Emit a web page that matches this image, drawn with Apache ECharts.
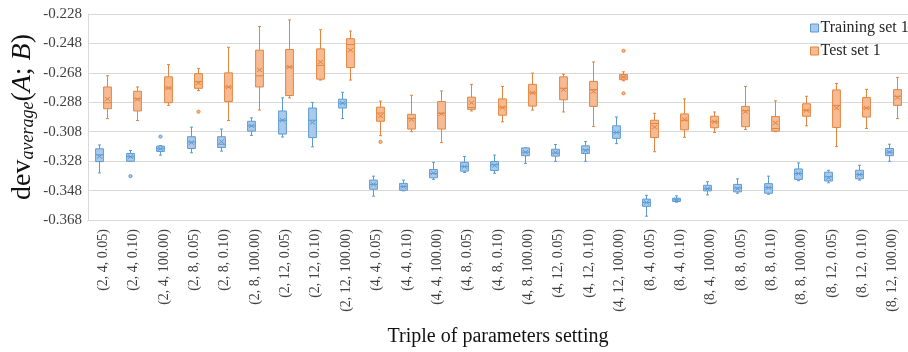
<!DOCTYPE html>
<html>
<head>
<meta charset="utf-8">
<script src="https://cdn.jsdelivr.net/npm/echarts@6/dist/echarts.min.js"></script>
<style>
  html, body { margin: 0; padding: 0; background: #fff; }
  #chart { width: 908px; height: 352px; }
</style>
</head>
<body>
<div id="chart"></div>
<script>
const categories = [
  '(2, 4, 0.05)', '(2, 4, 0.10)', '(2, 4, 100.00)',
  '(2, 8, 0.05)', '(2, 8, 0.10)', '(2, 8, 100.00)',
  '(2, 12, 0.05)', '(2, 12, 0.10)', '(2, 12, 100.00)',
  '(4, 4, 0.05)', '(4, 4, 0.10)', '(4, 4, 100.00)',
  '(4, 8, 0.05)', '(4, 8, 0.10)', '(4, 8, 100.00)',
  '(4, 12, 0.05)', '(4, 12, 0.10)', '(4, 12, 100.00)',
  '(8, 4, 0.05)', '(8, 4, 0.10)', '(8, 4, 100.00)',
  '(8, 8, 0.05)', '(8, 8, 0.10)', '(8, 8, 100.00)',
  '(8, 12, 0.05)', '(8, 12, 0.10)', '(8, 12, 100.00)'
];

// [min, Q1, median, Q3, max]
const trainBoxes = [
  [-0.3360, -0.3283, -0.3237, -0.3196, -0.3170],
  [-0.3281, -0.3281, -0.3250, -0.3228, -0.3208],
  [-0.3239, -0.3214, -0.3196, -0.3178, -0.3174],
  [-0.3223, -0.3194, -0.3150, -0.3114, -0.3049],
  [-0.3212, -0.3187, -0.3165, -0.3114, -0.3062],
  [-0.3105, -0.3076, -0.3040, -0.3009, -0.2986],
  [-0.3116, -0.3096, -0.3002, -0.2939, -0.2850],
  [-0.3183, -0.3120, -0.3002, -0.2919, -0.2881],
  [-0.2991, -0.2919, -0.2886, -0.2859, -0.2812],
  [-0.3518, -0.3471, -0.3438, -0.3409, -0.3382],
  [-0.3482, -0.3478, -0.3453, -0.3431, -0.3409],
  [-0.3404, -0.3393, -0.3364, -0.3337, -0.3288],
  [-0.3357, -0.3348, -0.3317, -0.3288, -0.3248],
  [-0.3362, -0.3344, -0.3304, -0.3283, -0.3239],
  [-0.3295, -0.3243, -0.3219, -0.3190, -0.3190],
  [-0.3281, -0.3246, -0.3225, -0.3199, -0.3167],
  [-0.3281, -0.3228, -0.3203, -0.3176, -0.3147],
  [-0.3161, -0.3125, -0.3085, -0.3040, -0.2980],
  [-0.3654, -0.3587, -0.3561, -0.3538, -0.3512],
  [-0.3559, -0.3554, -0.3543, -0.3532, -0.3516],
  [-0.3509, -0.3482, -0.3467, -0.3444, -0.3420],
  [-0.3498, -0.3489, -0.3462, -0.3438, -0.3400],
  [-0.3505, -0.3498, -0.3460, -0.3433, -0.3382],
  [-0.3413, -0.3404, -0.3364, -0.3333, -0.3292],
  [-0.3427, -0.3415, -0.3386, -0.3355, -0.3342],
  [-0.3409, -0.3400, -0.3371, -0.3342, -0.3308],
  [-0.3281, -0.3243, -0.3219, -0.3194, -0.3165]
];
const trainMeans = [
  -0.3248, -0.3250, -0.3196, -0.3154, -0.3147, -0.3040, -0.3002, -0.3018, -0.2886,
  -0.3438, -0.3453, -0.3360, -0.3317, -0.3310, -0.3219, -0.3221, -0.3208, -0.3085,
  -0.3561, -0.3543, -0.3467, -0.3467, -0.3460, -0.3364, -0.3393, -0.3371, -0.3219
];
// [category index, value]
const trainOutliers = [[1, -0.3382], [2, -0.3113]];

const testBoxes = [
  [-0.2991, -0.2924, -0.2883, -0.2776, -0.2700],
  [-0.3004, -0.2939, -0.2857, -0.2805, -0.2776],
  [-0.2901, -0.2883, -0.2783, -0.2707, -0.2624],
  [-0.2801, -0.2785, -0.2740, -0.2685, -0.2651],
  [-0.3004, -0.2875, -0.2776, -0.2680, -0.2506],
  [-0.2933, -0.2776, -0.2700, -0.2526, -0.2365],
  [-0.2850, -0.2834, -0.2640, -0.2521, -0.2320],
  [-0.2729, -0.2723, -0.2629, -0.2517, -0.2387],
  [-0.2729, -0.2644, -0.2488, -0.2448, -0.2396],
  [-0.3107, -0.3009, -0.2953, -0.2913, -0.2872],
  [-0.3080, -0.3062, -0.2991, -0.2962, -0.2832],
  [-0.3154, -0.3062, -0.2955, -0.2875, -0.2803],
  [-0.2939, -0.2928, -0.2915, -0.2845, -0.2758],
  [-0.3013, -0.2968, -0.2913, -0.2857, -0.2772],
  [-0.2933, -0.2906, -0.2816, -0.2758, -0.2682],
  [-0.2946, -0.2863, -0.2785, -0.2707, -0.2689],
  [-0.3044, -0.2908, -0.2794, -0.2738, -0.2606],
  [-0.2734, -0.2727, -0.2709, -0.2691, -0.2673],
  [-0.3216, -0.3120, -0.3024, -0.3002, -0.2955],
  [-0.3118, -0.3067, -0.3002, -0.2959, -0.2857],
  [-0.3085, -0.3053, -0.3013, -0.2975, -0.2946],
  [-0.3064, -0.3046, -0.2937, -0.2908, -0.2772],
  [-0.3080, -0.3076, -0.3058, -0.2977, -0.2870],
  [-0.3040, -0.2975, -0.2935, -0.2890, -0.2839],
  [-0.3181, -0.3051, -0.2901, -0.2796, -0.2752],
  [-0.3058, -0.2980, -0.2919, -0.2848, -0.2792],
  [-0.2991, -0.2901, -0.2839, -0.2794, -0.2711]
];
const testMeans = [
  -0.2857, -0.2861, -0.2783, -0.2749, -0.2776, -0.2660, -0.2640, -0.2606, -0.2526,
  -0.2973, -0.2997, -0.2959, -0.2883, -0.2917, -0.2816, -0.2794, -0.2807, -0.2709,
  -0.3049, -0.2997, -0.3013, -0.2944, -0.3020, -0.2935, -0.2919, -0.2919, -0.2848
];
const testOutliers = [[3, -0.2944], [9, -0.3149], [17, -0.2530], [17, -0.2819]];

const yMin = -0.368;
const yMax = -0.228;
const yStep = 0.02;

const FONT = 'Liberation Serif';
const BLUE = { stroke: '#5b9bd5', fill: '#abc9ea' };
const ORANGE = { stroke: '#e4843f', fill: '#f6bb92' };

const boxData = (boxes, means) => boxes.map((b, i) => [i, ...b, means[i]]);

function renderBox(offset, c) {
  return function (params, api) {
    const idx = api.value(0);
    const band = api.size([1, 0])[0];
    const cx = Math.round(api.coord([idx, api.value(3)])[0] + offset * band) + 0.5;
    const hw = band * 0.128;
    const y = (k) => api.coord([idx, api.value(k)])[1];
    const lo = y(1), q1 = y(2), med = y(3), q3 = y(4), hi = y(5), mean = y(6);
    const line = (x1, y1, x2, y2) => ({
      type: 'line', shape: { x1, y1, x2, y2 }, style: { stroke: c.stroke, lineWidth: 1 }
    });
    return {
      type: 'group',
      children: [
        line(cx, hi, cx, q3),
        line(cx, q1, cx, lo),
        line(cx - 1.5, hi, cx + 1.5, hi),
        line(cx - 1.5, lo, cx + 1.5, lo),
        {
          type: 'rect',
          shape: { x: cx - hw, y: q3, width: hw * 2, height: q1 - q3 },
          style: { fill: c.fill, stroke: c.stroke, lineWidth: 1 }
        },
        line(cx - hw, med, cx + hw, med),
        line(cx - 2.5, mean - 2, cx + 2.5, mean + 2),
        line(cx - 2.5, mean + 2, cx + 2.5, mean - 2)
      ]
    };
  };
}

function renderOutlier(offset, c) {
  return function (params, api) {
    const idx = api.value(0);
    const band = api.size([1, 0])[0];
    const p = api.coord([idx, api.value(1)]);
    return {
      type: 'circle',
      shape: { cx: Math.round(p[0] + offset * band) + 0.5, cy: p[1], r: 1.6 },
      style: { fill: c.fill, stroke: c.stroke, lineWidth: 1 }
    };
  };
}

const chart = echarts.init(document.getElementById('chart'), null, { renderer: 'canvas' });
chart.setOption({
  animation: false,
  textStyle: { fontFamily: FONT },
  grid: { left: 88, right: 0, top: 14, bottom: 130 },
  legend: {
    orient: 'vertical',
    left: 805,
    top: 15,
    itemWidth: 8,
    itemHeight: 8,
    itemGap: 7,
    icon: 'rect',
    textStyle: { fontFamily: FONT, fontSize: 16, color: '#262626', padding: [0, 0, 0, -3] },
    data: [
      { name: 'Training set 1', itemStyle: { color: BLUE.fill, borderColor: BLUE.stroke, borderWidth: 1 } },
      { name: 'Test set 1', itemStyle: { color: ORANGE.fill, borderColor: ORANGE.stroke, borderWidth: 1 } }
    ]
  },
  graphic: [{
    type: 'text',
    x: 20,
    y: 117,
    rotation: Math.PI / 2,
    style: {
      text: '{n|dev}{s|average}{n|(}{i|A}{n|; }{i|B}{n|)}',
      align: 'center',
      verticalAlign: 'middle',
      rich: {
        n: { fontFamily: FONT, fontSize: 28, lineHeight: 34, fill: '#111', verticalAlign: 'bottom' },
        i: { fontFamily: FONT, fontSize: 28, lineHeight: 34, fontStyle: 'italic', fill: '#111', verticalAlign: 'bottom' },
        s: { fontFamily: FONT, fontSize: 18, lineHeight: 22, fontStyle: 'italic', fill: '#111', verticalAlign: 'bottom' }
      }
    }
  }],
  xAxis: {
    type: 'category',
    data: categories,
    boundaryGap: true,
    name: 'Triple of parameters setting',
    nameLocation: 'middle',
    nameGap: 107,
    nameTextStyle: { fontFamily: FONT, fontSize: 20, color: '#111' },
    axisLine: { lineStyle: { color: '#d9d9d9' } },
    axisTick: { show: false },
    axisLabel: { interval: 0, rotate: 90, margin: 9, fontFamily: FONT, fontSize: 14, color: '#404040' },
    splitLine: { show: false }
  },
  yAxis: {
    type: 'value',
    min: yMin,
    max: yMax,
    interval: yStep,
    axisLine: { show: true, lineStyle: { color: '#d9d9d9' } },
    axisTick: { show: false },
    axisLabel: {
      margin: 6, fontFamily: FONT, fontSize: 15, color: '#404040',
      formatter: (v) => v.toFixed(3)
    },
    splitLine: { lineStyle: { color: '#d9d9d9' } }
  },
  series: [
    {
      name: 'Training set 1', type: 'custom', itemStyle: { color: BLUE.fill },
      renderItem: renderBox(-0.125, BLUE),
      encode: { x: 0, y: [1, 2, 3, 4, 5, 6] },
      data: boxData(trainBoxes, trainMeans)
    },
    {
      name: 'Test set 1', type: 'custom', itemStyle: { color: ORANGE.fill },
      renderItem: renderBox(0.125, ORANGE),
      encode: { x: 0, y: [1, 2, 3, 4, 5, 6] },
      data: boxData(testBoxes, testMeans)
    },
    {
      name: 'Training set 1', type: 'custom', itemStyle: { color: BLUE.fill },
      renderItem: renderOutlier(-0.125, BLUE),
      encode: { x: 0, y: 1 },
      data: trainOutliers
    },
    {
      name: 'Test set 1', type: 'custom', itemStyle: { color: ORANGE.fill },
      renderItem: renderOutlier(0.125, ORANGE),
      encode: { x: 0, y: 1 },
      data: testOutliers
    }
  ]
});
</script>
</body>
</html>
